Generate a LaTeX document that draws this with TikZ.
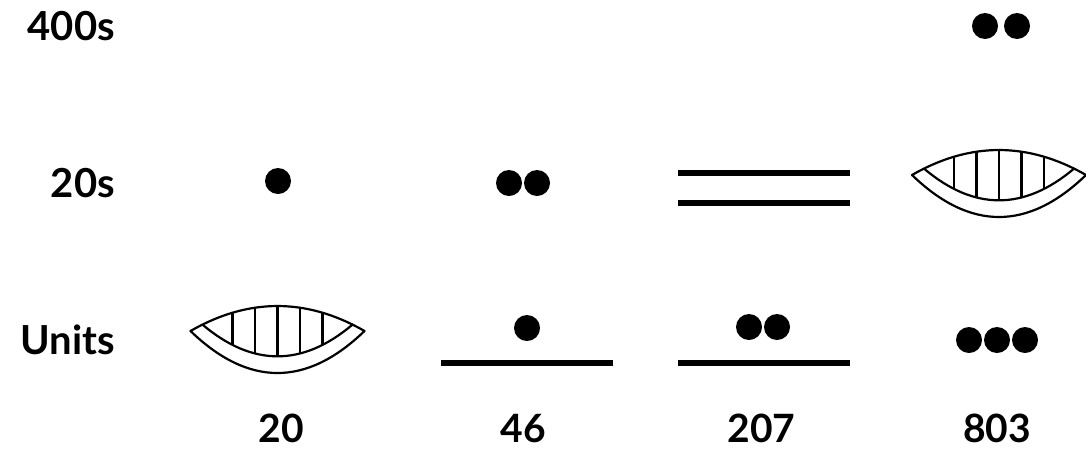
\documentclass[tikz,border=0pt]{standalone}
\usepackage{fontspec}
\setmainfont{Lato}
\begin{document}
\begin{tikzpicture}[x=1pt,y=-1pt,
  lbl/.style={font=\fontsize{40}{42}\selectfont\bfseries, inner sep=0pt, anchor=base east},
  num/.style={font=\fontsize{39}{42}\selectfont\bfseries, inner sep=0pt, anchor=base, text depth=0pt},
  dot/.style={circle, fill=black, inner sep=0pt, minimum size=26pt},
  bar/.style={line width=6pt},
  shellline/.style={line width=2.2pt, line join=round}]
\useasboundingbox (0,0) rectangle (1086,448);
% shell glyph
\newcommand{\myshell}[2]{%
  \begin{scope}[shift={(#1,#2)}]
    \begin{scope}
      \clip (-87,0) .. controls (-29,-33.3) and (29,-33.3) .. (87,0)
            -- (75,-6.4) .. controls (25,35.9) and (-25,35.9) .. (-75,-6.4) -- cycle;
      \foreach \vx in {-45,-22.5,0,22.5,45}
        \draw[shellline] (\vx,-40) -- (\vx,40);
    \end{scope}
    \draw[shellline] (-87,0) .. controls (-29,-33.3) and (29,-33.3) .. (87,0)
                     .. controls (29,56) and (-29,56) .. (-87,0) -- cycle;
    \draw[shellline] (-75,-6.4) .. controls (-25,35.9) and (25,35.9) .. (75,-6.4);
  \end{scope}}
% row labels
\node[lbl] (l400) at (115,40) {400s};
\node[lbl] (l20) at (115,197) {20s};
\node[lbl] (lu) at (115,354) {Units};
% column 1: 20
\node[dot] (c1t) at (278,181) {};
\myshell{277.5}{331}
\node[num] (n1) at (281,442) {20};
% column 2: 46
\node[dot] (c2ta) at (509,183) {};
\node[dot] (c2tb) at (537,183) {};
\node[dot] (c2u) at (527,328) {};
\coordinate (c2l1) at (441,363);
\coordinate (c2l2) at (613,363);
\draw[bar] (c2l1) -- (c2l2);
\node[num] (n2) at (523,442) {46};
% column 3: 207
\coordinate (c3a1) at (678,173);
\coordinate (c3a2) at (850,173);
\coordinate (c3b1) at (678,203);
\coordinate (c3b2) at (850,203);
\draw[bar] (c3a1) -- (c3a2);
\draw[bar] (c3b1) -- (c3b2);
\node[dot] (c3ua) at (749,327) {};
\node[dot] (c3ub) at (777,327) {};
\coordinate (c3l1) at (678,363);
\coordinate (c3l2) at (850,363);
\draw[bar] (c3l1) -- (c3l2);
\node[num] (n3) at (761.5,442) {207};
% column 4: 803
\node[dot] (c4ha) at (985,26) {};
\node[dot] (c4hb) at (1017,26) {};
\myshell{999}{175}
\node[dot] (c4ua) at (969,340) {};
\node[dot] (c4ub) at (997,340) {};
\node[dot] (c4uc) at (1025,340) {};
\node[num] (n4) at (997,442) {803};
\end{tikzpicture}
\end{document}
